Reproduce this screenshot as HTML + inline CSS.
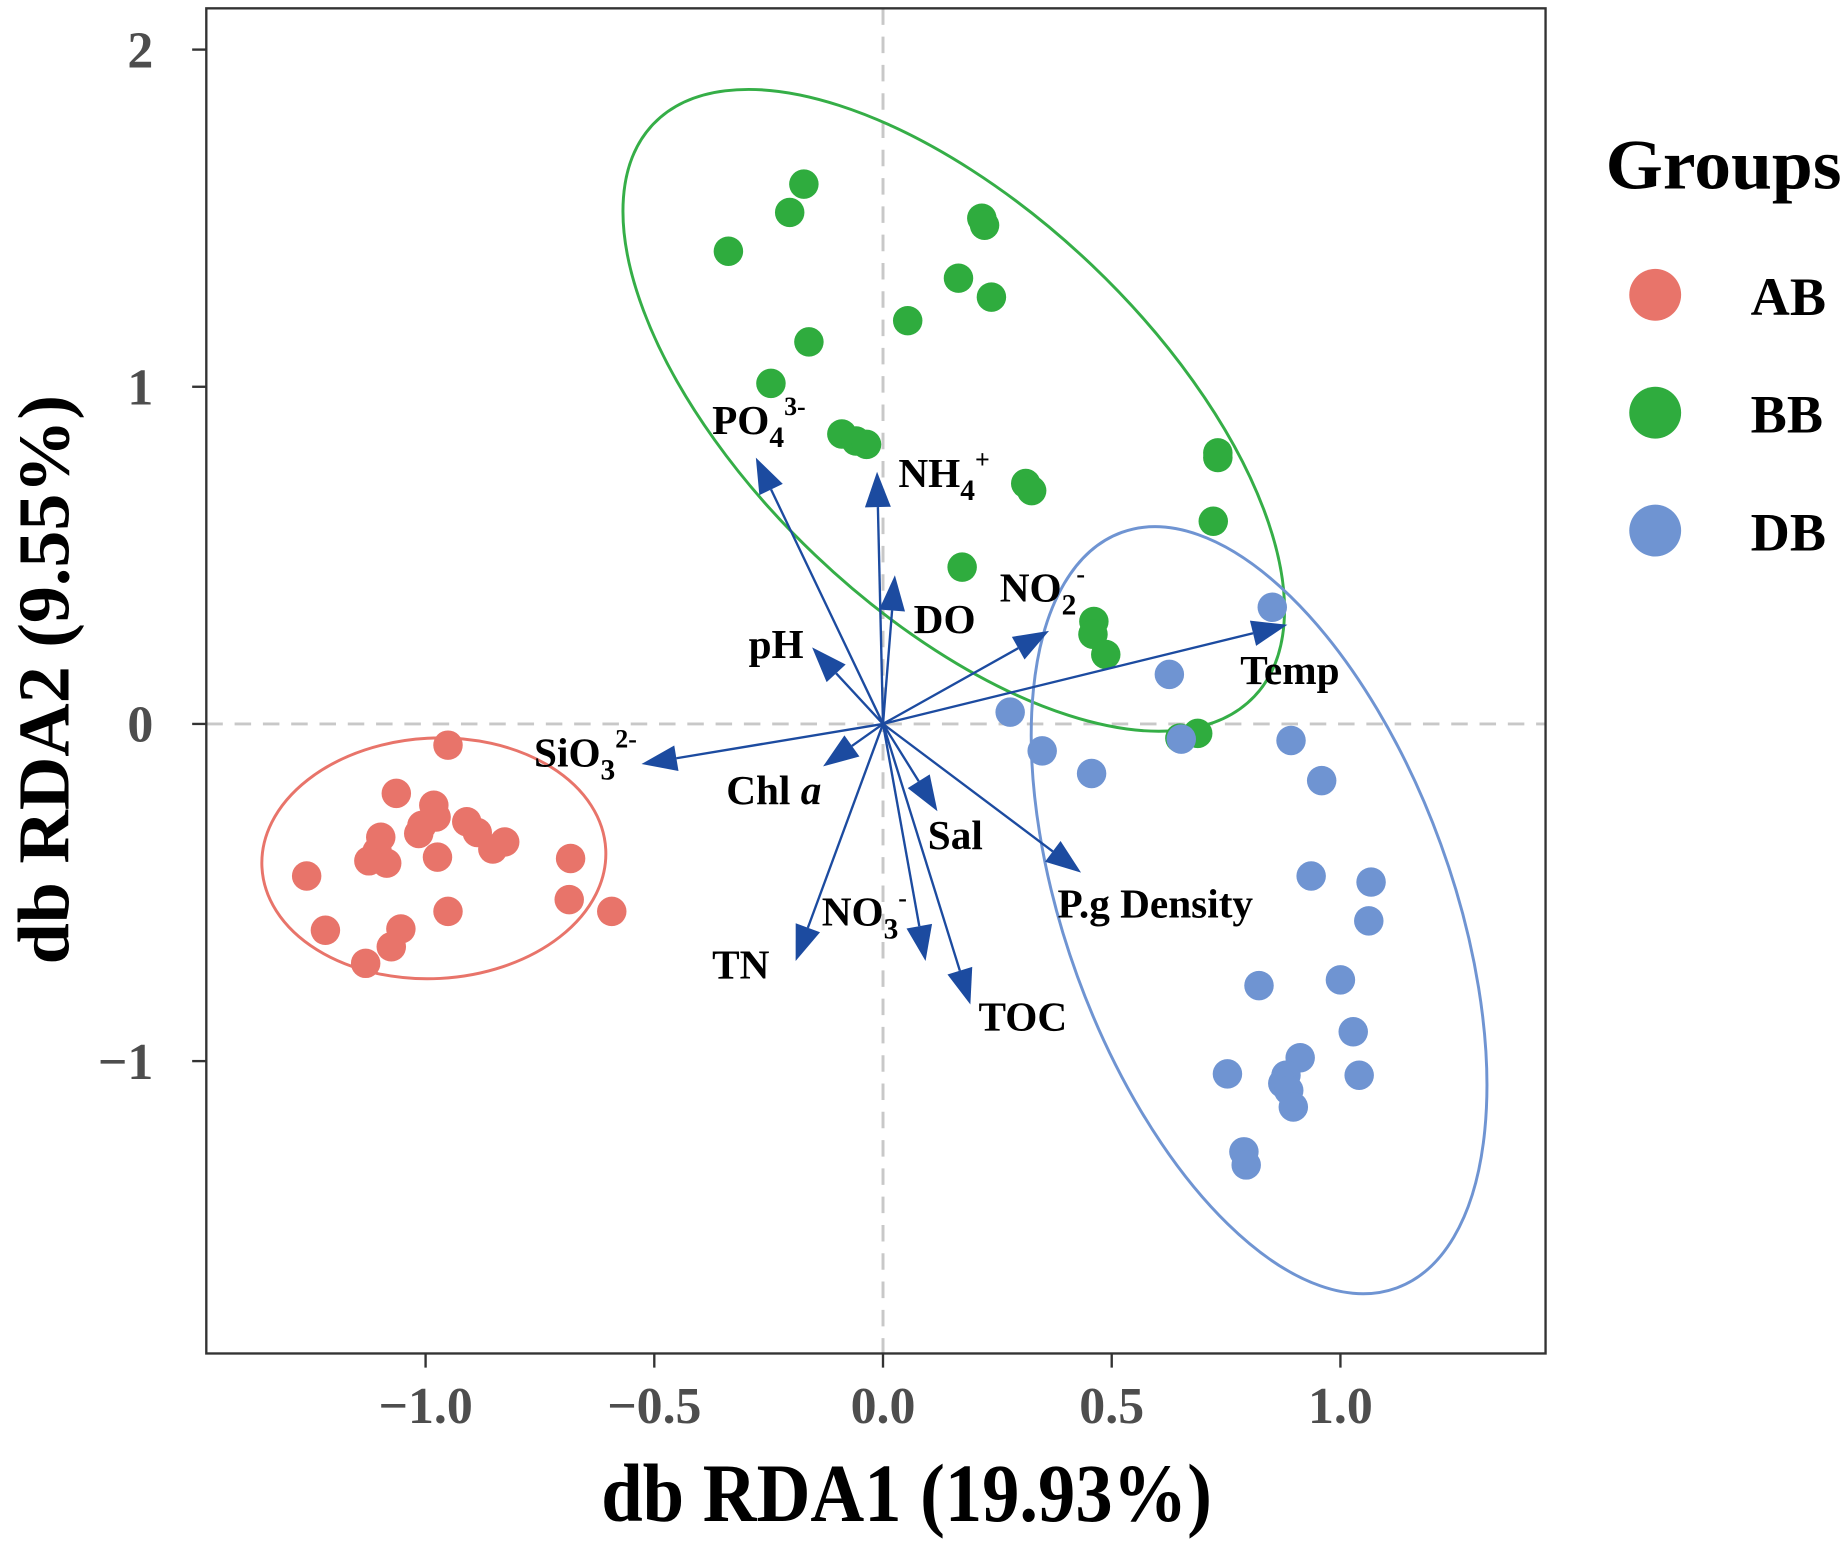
<!DOCTYPE html>
<html><head><meta charset="utf-8"><style>
html,body{margin:0;padding:0;background:#fff;}
svg text{font-family:"Liberation Serif",serif;font-weight:bold;}
</style></head><body>
<svg id="chart" width="1845" height="1541" viewBox="0 0 1565 1307" xmlns="http://www.w3.org/2000/svg">
<rect width="1565" height="1307" fill="#fff"/>
<g id="plot"></g>
</svg>
<script>
const xTicks=[-1.0,-0.5,0.0,0.5,1.0];
const xTickLabels=["\u22121.0","\u22120.5","0.0","0.5","1.0"];
const yTicks=[2,1,0,-1];
const yTickLabels=["2","1","0","\u22121"];
const abX=[-0.951,-1.064,-0.982,-0.977,-1.008,-1.098,-0.910,-0.887,-0.827,-0.853,-1.015,-1.106,-0.974,-1.085,-1.124,-0.683,-1.260,-0.686,-0.951,-0.593,-1.219,-1.054,-1.075,-1.131];
const abY=[-0.063,-0.206,-0.241,-0.276,-0.301,-0.336,-0.290,-0.322,-0.350,-0.371,-0.325,-0.378,-0.395,-0.413,-0.406,-0.399,-0.451,-0.521,-0.556,-0.556,-0.612,-0.608,-0.661,-0.710];
const bbX=[-0.173,-0.204,-0.338,0.216,0.222,0.165,0.237,0.054,-0.162,-0.245,-0.090,-0.059,-0.036,0.732,0.732,0.312,0.325,0.722,0.173,0.461,0.459,0.487,0.688,0.649];
const bbY=[1.601,1.517,1.402,1.500,1.479,1.322,1.266,1.196,1.133,1.010,0.860,0.839,0.829,0.804,0.790,0.713,0.692,0.601,0.465,0.304,0.266,0.206,-0.028,-0.042];
const dbX=[0.851,0.626,0.278,0.348,0.652,0.892,0.456,0.959,0.936,1.067,1.062,0.822,1.000,1.028,0.912,0.753,1.041,0.881,0.874,0.887,0.897,0.789,0.794];
const dbY=[0.346,0.147,0.035,-0.080,-0.045,-0.049,-0.147,-0.168,-0.451,-0.469,-0.584,-0.776,-0.759,-0.913,-0.990,-1.038,-1.042,-1.042,-1.066,-1.087,-1.136,-1.269,-1.308];
const envNames=["PO4","NH4","DO","NO2","Temp","pH","SiO3","Chl a","Sal","P.g Density","TN","NO3","TOC"];
const envX=[-0.278,-0.013,0.026,0.363,0.884,-0.155,-0.528,-0.131,0.119,0.433,-0.191,0.093,0.191];
const envY=[0.790,0.748,0.441,0.276,0.294,0.227,-0.119,-0.126,-0.259,-0.441,-0.703,-0.703,-0.832];

const NS="http://www.w3.org/2000/svg";
const g=document.getElementById('plot');
const L=175,R=1311,T=7,B=1148;
const sx=v=>749+388*v;
const sy=v=>614-286*v;
function mk(tag,attrs,parent){const e=document.createElementNS(NS,tag);for(const k in attrs)e.setAttribute(k,attrs[k]);(parent||g).appendChild(e);return e;}

let e=mk('line',{x1:L,x2:R,y1:sy(0),y2:sy(0),stroke:'#c8c8c8','stroke-width':2.5,'stroke-dasharray':'14 10'});


e=mk('line',{x1:sx(0),x2:sx(0),y1:T,y2:B,stroke:'#c8c8c8','stroke-width':2.5,'stroke-dasharray':'14 10'});



e=mk('ellipse',{cx:368,cy:728,rx:146,ry:102,fill:'none',stroke:'#e8746a','stroke-width':2.5,transform:'rotate(-3 368 728)'});


e=mk('ellipse',{cx:809,cy:348,rx:352,ry:170,fill:'none',stroke:'#35ae47','stroke-width':2.5,transform:'rotate(43.6 809 348)'});


e=mk('ellipse',{cx:1068,cy:772,rx:341,ry:164,fill:'none',stroke:'#6f94d2','stroke-width':2.5,transform:'rotate(70 1068 772)'});



function pts(xs,ys,col,name){for(let i=0;i<xs.length;i++){const c=mk('circle',{cx:sx(xs[i]),cy:sy(ys[i]),r:12.5,fill:col});

}}
pts(abX,abY,'#e8746a','point-ab');
pts(bbX,bbY,'#2fac3e','point-bb');
pts(dbX,dbY,'#6f94d2','point-db');

const ac='#1c4ba0';
for(let i=0;i<envX.length;i++){
  const x0=sx(0),y0=sy(0),x1=sx(envX[i]),y1=sy(envY[i]);
  const dx=x1-x0,dy=y1-y0,len=Math.hypot(dx,dy),ux=dx/len,uy=dy/len;
  const hl=30,hw=11;
  const bx=x1-ux*hl,by=y1-uy*hl;
  const ln=mk('line',{x1:x0,y1:y0,x2:bx,y2:by,stroke:ac,'stroke-width':2});
  
  
  const hd=mk('polygon',{points:`${x1},${y1} ${bx-uy*hw},${by+ux*hw} ${bx+uy*hw},${by-ux*hw}`,fill:ac});
  
  
}

const labels=[
 [604,368,'PO<tspan font-size="25" dy="11">4</tspan><tspan font-size="22" dy="-27">3-</tspan>'],
 [762,413,'NH<tspan font-size="25" dy="11">4</tspan><tspan font-size="22" dy="-27">+</tspan>'],
 [775,537,'DO'],
 [848,510,'NO<tspan font-size="25" dy="11">2</tspan><tspan font-size="22" dy="-27">-</tspan>'],
 [1052,580,'Temp'],
 [635,558,'pH'],
 [453,650,'SiO<tspan font-size="25" dy="11">3</tspan><tspan font-size="22" dy="-27">2-</tspan>'],
 [616,682,'Chl <tspan font-style="italic">a</tspan>'],
 [787,720,'Sal'],
 [897,778,'P.g Density'],
 [604,830,'TN'],
 [697,785,'NO<tspan font-size="25" dy="11">3</tspan><tspan font-size="22" dy="-27">-</tspan>'],
 [830,874,'TOC']];
labels.forEach((l,i)=>{const t=mk('text',{x:l[0],y:l[1],'font-size':35,fill:'#000'});t.innerHTML=l[2];

});

e=mk('rect',{x:L,y:T,width:R-L,height:B-T,fill:'none',stroke:'#333','stroke-width':2});



xTicks.forEach((v,i)=>{const tk=mk('line',{x1:sx(v),x2:sx(v),y1:B,y2:B+12,stroke:'#333','stroke-width':2});


const t=mk('text',{x:sx(v),y:1207,'font-size':44,fill:'#4d4d4d','text-anchor':'middle'});t.textContent=xTickLabels[i];

});
yTicks.forEach((v,i)=>{const tk=mk('line',{x1:L-12,x2:L,y1:sy(v),y2:sy(v),stroke:'#333','stroke-width':2});


const t=mk('text',{x:130,y:sy(v)+15,'font-size':44,fill:'#4d4d4d','text-anchor':'end'});t.textContent=yTickLabels[i];

});

e=mk('text',{x:510,y:1290,'font-size':70,fill:'#000',textLength:518,lengthAdjust:'spacingAndGlyphs'});e.textContent='db RDA1 (19.93%)';


e=mk('text',{x:0,y:0,'font-size':62,fill:'#000',textLength:483,lengthAdjust:'spacingAndGlyphs',transform:'translate(58,818) rotate(-90)'});e.textContent='db RDA2 (9.55%)';



e=mk('text',{x:1362,y:160,'font-size':60,fill:'#000',textLength:200,lengthAdjust:'spacingAndGlyphs'});e.textContent='Groups';


const legNames=['AB','BB','DB'],legCols=['#e8746a','#2fac3e','#6f94d2'],legY=[250,350,450];
legNames.forEach((n,i)=>{const c=mk('circle',{cx:1404,cy:legY[i],r:22,fill:legCols[i]});


const t=mk('text',{x:1485,y:legY[i]+17,'font-size':46,fill:'#000'});t.textContent=n;

});
</script>
</body></html>
